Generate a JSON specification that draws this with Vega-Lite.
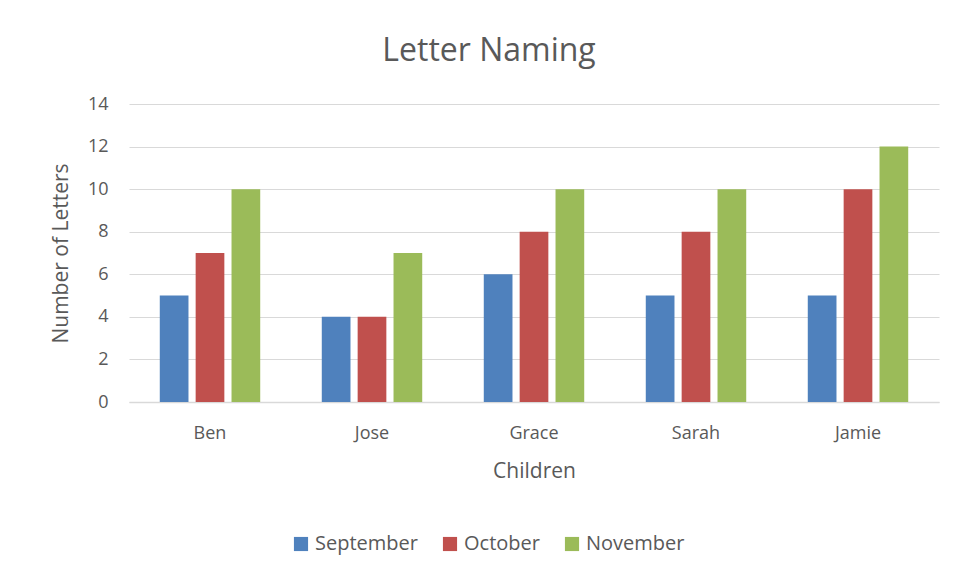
{
  "$schema": "https://vega.github.io/schema/vega-lite/v6.json",
  "autosize": {"type": "none"},
  "width": 810,
  "height": 298,
  "padding": {"left": 129, "top": 104, "right": 19, "bottom": 177},
  "background": "white",
  "title": {
    "text": "Letter Naming",
    "fontSize": 32,
    "font": "Open Sans",
    "fontWeight": "normal",
    "color": "#595959",
    "anchor": "middle",
    "dx": -45,
    "offset": 27
  },
  "data": {
    "values": [
      {"child": "Ben", "month": "September", "letters": 5},
      {"child": "Ben", "month": "October", "letters": 7},
      {"child": "Ben", "month": "November", "letters": 10},
      {"child": "Jose", "month": "September", "letters": 4},
      {"child": "Jose", "month": "October", "letters": 4},
      {"child": "Jose", "month": "November", "letters": 7},
      {"child": "Grace", "month": "September", "letters": 6},
      {"child": "Grace", "month": "October", "letters": 8},
      {"child": "Grace", "month": "November", "letters": 10},
      {"child": "Sarah", "month": "September", "letters": 5},
      {"child": "Sarah", "month": "October", "letters": 8},
      {"child": "Sarah", "month": "November", "letters": 10},
      {"child": "Jamie", "month": "September", "letters": 5},
      {"child": "Jamie", "month": "October", "letters": 10},
      {"child": "Jamie", "month": "November", "letters": 12}
    ]
  },
  "mark": {"type": "bar"},
  "encoding": {
    "x": {
      "field": "child",
      "type": "nominal",
      "sort": ["Ben", "Jose", "Grace", "Sarah", "Jamie"],
      "scale": {"paddingInner": 0.38, "paddingOuter": 0.19},
      "axis": {
        "title": "Children",
        "titleFontSize": 21,
        "titleFont": "Open Sans",
        "titleFontWeight": "normal",
        "titleColor": "#595959",
        "titlePadding": 18,
        "labelAngle": 0,
        "labelFontSize": 18,
        "labelFont": "Open Sans",
        "labelColor": "#595959",
        "labelPadding": 22,
        "ticks": false,
        "domainColor": "#d9d9d9",
        "domainWidth": 1.5,
        "grid": false
      }
    },
    "xOffset": {
      "field": "month",
      "type": "nominal",
      "sort": ["September", "October", "November"],
      "scale": {"paddingInner": 0.2, "paddingOuter": 0}
    },
    "y": {
      "field": "letters",
      "type": "quantitative",
      "scale": {"domain": [0, 14], "nice": false},
      "axis": {
        "title": "Number of Letters",
        "titleFontSize": 21,
        "titleFont": "Open Sans",
        "titleFontWeight": "normal",
        "titleColor": "#595959",
        "titlePadding": 16,
        "values": [0, 2, 4, 6, 8, 10, 12, 14],
        "labelFontSize": 18,
        "labelFont": "Open Sans",
        "labelColor": "#595959",
        "labelPadding": 21,
        "ticks": false,
        "domain": false,
        "gridColor": "#d9d9d9",
        "gridWidth": 1.2
      }
    },
    "color": {
      "field": "month",
      "type": "nominal",
      "sort": ["September", "October", "November"],
      "scale": {
        "domain": ["September", "October", "November"],
        "range": ["#4F81BD", "#C0504D", "#9BBB59"]
      },
      "legend": {
        "title": null,
        "orient": "none",
        "direction": "horizontal",
        "legendX": 162,
        "legendY": 430,
        "symbolType": "square",
        "symbolSize": 200,
        "symbolStrokeWidth": 0,
        "labelFontSize": 20,
        "labelFont": "Open Sans",
        "labelColor": "#595959",
        "labelOffset": 4,
        "columnPadding": 22
      }
    }
  },
  "config": {
    "view": {"stroke": null}
  }
}
